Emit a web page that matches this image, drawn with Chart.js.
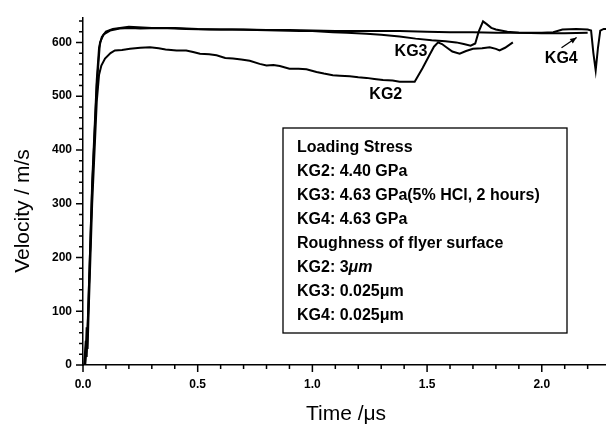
<!DOCTYPE html>
<html>
<head>
<meta charset="utf-8">
<script src="https://cdn.jsdelivr.net/npm/chart.js@4.4.1/dist/chart.umd.min.js"></script>
<style>
  html, body { margin: 0; padding: 0; background: #fff; }
</style>
</head>
<body>
<canvas id="grafico" width="606" height="427"></canvas>
<script>
// tick values / labels
const xMajor = [0, 0.5, 1.0, 1.5, 2.0];
const xLabels = ['0.0', '0.5', '1.0', '1.5', '2.0'];
const xMinor = [0.1, 0.2, 0.3, 0.4, 0.6, 0.7, 0.8, 0.9, 1.1, 1.2, 1.3, 1.4, 1.6, 1.7, 1.8, 1.9, 2.1, 2.2];
const yMajor = [0, 100, 200, 300, 400, 500, 600];
const yLabels = ['0', '100', '200', '300', '400', '500', '600'];
const yMinor = [20, 40, 60, 80, 120, 140, 160, 180, 220, 240, 260, 280, 320, 340, 360, 380,
                420, 440, 460, 480, 520, 540, 560, 580, 620, 640];

// KG2 (lower curve)
const kg2Tempo = [0.01, 0.016, 0.02, 0.024, 0.04, 0.06, 0.07, 0.08, 0.096, 0.12, 0.139, 0.17, 0.205, 0.25, 0.292,
  0.33, 0.36, 0.408, 0.45, 0.48, 0.51, 0.55, 0.582, 0.62, 0.654, 0.69, 0.727, 0.77, 0.80, 0.83, 0.858,
  0.90, 0.94, 0.974, 1.018, 1.05, 1.089, 1.12, 1.163, 1.20, 1.236, 1.27, 1.308, 1.35, 1.38, 1.42, 1.446,
  1.48, 1.51, 1.53, 1.548, 1.565, 1.584, 1.61, 1.642, 1.67, 1.70, 1.74, 1.773, 1.80, 1.816, 1.84, 1.874];
const kg2Vel = [0, 70, 30, 90, 300, 490, 540, 557, 570, 580, 585, 586, 588, 590, 591,
  589, 587, 585, 585, 582, 579, 578, 576, 571, 570, 568, 566, 560, 557, 558, 556,
  551, 551, 550, 545, 542, 539, 538, 537, 535, 534, 532, 530, 529, 527, 527, 527,
  552, 576, 592, 600, 597, 591, 583, 579, 584, 588, 589, 591, 588, 585, 590, 600];

// KG3
const kg3Tempo = [0.008, 0.015, 0.02, 0.04, 0.06, 0.074, 0.09, 0.118, 0.16, 0.205, 0.25, 0.335, 0.4, 0.45,
  0.553, 0.65, 0.758, 0.85, 0.945, 1.0, 1.089, 1.15, 1.236, 1.30, 1.38, 1.45, 1.52, 1.58, 1.627, 1.66,
  1.69, 1.71, 1.725, 1.744, 1.76, 1.78, 1.80, 1.85, 1.90, 2.0, 2.1, 2.2];
const kg3Vel = [0, 30, 70, 330, 520, 600, 615, 622, 626, 627, 626, 627, 626, 625,
  624, 624, 623, 622, 621, 621, 619, 618, 616, 614, 611, 607, 604, 602, 600, 597,
  594, 598, 620, 639, 634, 627, 624, 620, 618, 617, 617, 618];

// KG4
const kg4Tempo = [0.005, 0.012, 0.016, 0.022, 0.04, 0.06, 0.07, 0.082, 0.10, 0.13, 0.20, 0.30, 0.40, 0.50,
  0.60, 0.70, 0.80, 0.90, 1.0, 1.1, 1.2, 1.3, 1.38, 1.5, 1.6, 1.7, 1.8, 1.9, 2.0, 2.05, 2.09, 2.15,
  2.20, 2.215, 2.225, 2.235, 2.245, 2.255, 2.27, 2.28];
const kg4Vel = [0, 45, 15, 90, 340, 530, 590, 610, 620, 625, 629, 627, 627, 625,
  624, 624, 623, 623, 622, 621, 621, 621, 621, 620, 619, 619, 618, 618, 618, 619, 624, 625,
  624, 622, 580, 548, 590, 622, 625, 625];

const caixaTexto = ['Loading Stress', 'KG2: 4.40 GPa', 'KG3: 4.63 GPa(5% HCl, 2 hours)', 'KG4: 4.63 GPa',
  'Roughness of flyer surface', 'KG2: 3μm', 'KG3: 0.025μm', 'KG4: 0.025μm'];

function pontos(t, v) {
    return t.map((x, i) => ({ x: x, y: v[i] }));
}

const FONTE = '"Liberation Sans", Arial, sans-serif';

const extras = {
    id: 'extras',
    afterDraw(chart) {
        const ctx = chart.ctx;
        const sx = chart.scales.x;
        const sy = chart.scales.y;
        const area = chart.chartArea;
        ctx.save();
        ctx.strokeStyle = '#000';
        ctx.fillStyle = '#000';
        ctx.lineWidth = 1.5;

        // ticks
        ctx.beginPath();
        xMajor.forEach(v => { const p = sx.getPixelForValue(v); ctx.moveTo(p, area.bottom); ctx.lineTo(p, area.bottom + 7); });
        xMinor.forEach(v => { const p = sx.getPixelForValue(v); ctx.moveTo(p, area.bottom); ctx.lineTo(p, area.bottom + 4); });
        yMajor.forEach(v => { const p = sy.getPixelForValue(v); ctx.moveTo(area.left, p); ctx.lineTo(area.left - 7, p); });
        yMinor.forEach(v => { const p = sy.getPixelForValue(v); ctx.moveTo(area.left, p); ctx.lineTo(area.left - 4, p); });
        ctx.stroke();

        // axis titles
        ctx.textAlign = 'center';
        ctx.textBaseline = 'middle';
        ctx.font = '21px ' + FONTE;
        ctx.fillText('Time /μs', 346, 414);
        ctx.save();
        ctx.translate(23, 211);
        ctx.rotate(-Math.PI / 2);
        ctx.fillText('Velocity / m/s', 0, 0);
        ctx.restore();

        // curve labels
        ctx.font = 'bold 16px ' + FONTE;
        ctx.fillText('KG3', sx.getPixelForValue(1.43), sy.getPixelForValue(583));
        ctx.fillText('KG2', sx.getPixelForValue(1.32), sy.getPixelForValue(503));
        ctx.fillText('KG4', sx.getPixelForValue(2.085), sy.getPixelForValue(570));

        // arrow to KG4
        const ax0 = sx.getPixelForValue(2.086), ay0 = sy.getPixelForValue(590);
        const ax1 = sx.getPixelForValue(2.152), ay1 = sy.getPixelForValue(609);
        ctx.lineWidth = 1.3;
        ctx.beginPath();
        ctx.moveTo(ax0, ay0);
        ctx.lineTo(ax1, ay1);
        ctx.stroke();
        const ang = Math.atan2(ay1 - ay0, ax1 - ax0);
        ctx.beginPath();
        ctx.moveTo(ax1, ay1);
        ctx.lineTo(ax1 - 7 * Math.cos(ang - 0.4), ay1 - 7 * Math.sin(ang - 0.4));
        ctx.lineTo(ax1 - 7 * Math.cos(ang + 0.4), ay1 - 7 * Math.sin(ang + 0.4));
        ctx.closePath();
        ctx.fill();

        // text box
        ctx.lineWidth = 1.3;
        ctx.strokeRect(283, 128, 284, 205);
        ctx.textAlign = 'left';
        ctx.font = 'bold 16px ' + FONTE;
        caixaTexto.forEach((linha, i) => {
            const y = 148 + i * 24;
            if (linha === 'KG2: 3μm') {
                ctx.fillText('KG2: 3', 297, y);
                const w = ctx.measureText('KG2: 3').width;
                ctx.font = 'bold italic 16px ' + FONTE;
                ctx.fillText('μm', 297 + w, y);
                ctx.font = 'bold 16px ' + FONTE;
            } else {
                ctx.fillText(linha, 297, y);
            }
        });
        ctx.restore();
    }
};

const serie = (dados) => ({
    data: dados,
    showLine: true,
    borderColor: '#000',
    backgroundColor: '#000',
    borderWidth: 2,
    pointRadius: 0,
    tension: 0,
    fill: false
});

new Chart(document.getElementById('grafico').getContext('2d'), {
    type: 'scatter',
    data: {
        datasets: [
            serie(pontos(kg2Tempo, kg2Vel)),
            serie(pontos(kg3Tempo, kg3Vel)),
            serie(pontos(kg4Tempo, kg4Vel))
        ]
    },
    options: {
        responsive: false,
        animation: false,
        devicePixelRatio: 1,
        layout: { padding: { top: 12, right: 0, left: 0, bottom: 0 } },
        plugins: { legend: { display: false }, tooltip: { enabled: false } },
        scales: {
            x: {
                type: 'linear',
                min: 0,
                max: 2.28,
                afterBuildTicks: s => { s.ticks = xMajor.map(v => ({ value: v })); },
                afterFit: s => { s.height = 62; },
                grid: { display: false, drawTicks: false },
                border: { display: true, color: '#000', width: 1.5 },
                ticks: {
                    callback: (v, i) => xLabels[i],
                    color: '#000',
                    font: { family: FONTE, size: 12, weight: 'bold' },
                    padding: 12,
                    maxRotation: 0,
                    autoSkip: false
                }
            },
            y: {
                min: 0,
                max: 645,
                afterBuildTicks: s => { s.ticks = yMajor.map(v => ({ value: v })); },
                afterFit: s => { s.width = 83; },
                grid: { display: false, drawTicks: false },
                border: { display: true, color: '#000', width: 1.5 },
                ticks: {
                    callback: (v, i) => yLabels[i],
                    color: '#000',
                    font: { family: FONTE, size: 12, weight: 'bold' },
                    padding: 11,
                    autoSkip: false
                }
            }
        }
    },
    plugins: [extras]
});
</script>
</body>
</html>
